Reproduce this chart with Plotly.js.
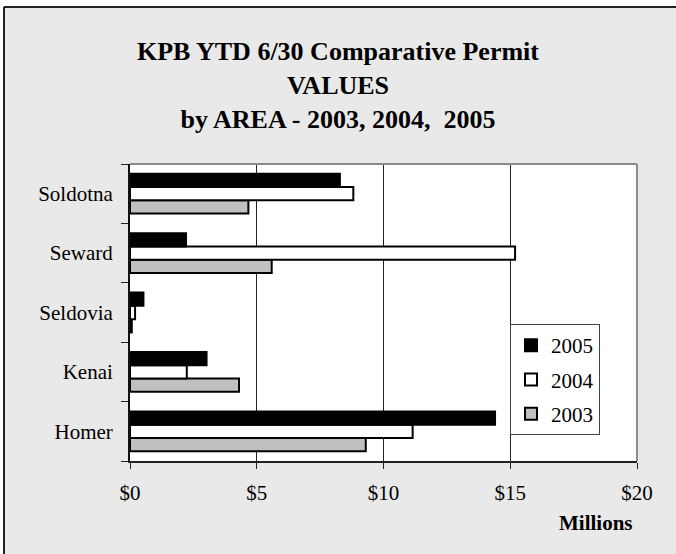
<!DOCTYPE html>
<html>
<head>
<meta charset="utf-8">
<script src="https://cdn.plot.ly/plotly-3.0.1.min.js"></script>
<style>html,body{margin:0;padding:0;background:#fff;}#chart{width:676px;height:554px;}</style>
</head>
<body>
<div id="chart"></div>
<script>
const categories = ['Homer', 'Kenai', 'Seldovia', 'Seward', 'Soldotna'];
const v2005 = [14.4, 3.02, 0.53, 2.21, 8.28];
const v2004 = [11.15, 2.24, 0.2, 15.19, 8.81];
const v2003 = [9.3, 4.3, 0.07, 5.59, 4.67];
const xTicks = [0, 5, 10, 15, 20];
const xTickLabels = ['$0', '$5', '$10', '$15', '$20'];

const font = '"Liberation Serif", "Times New Roman", serif';
function mk(name, vals, color, grp, rank) {
  return {
    type: 'bar', orientation: 'h', name: name, x: vals, y: categories,
    legendgroup: grp, legendrank: rank,
    marker: {color: color, line: {color: '#000', width: 2}},
    hoverinfo: 'x+y'
  };
}
const data = [
  mk('2003', v2003, '#c0c0c0', 'c', 3),
  mk('2004', v2004, '#ffffff', 'b', 2),
  mk('2005', v2005, '#000000', 'a', 1)
];

const px = p => (p - 130) / 507;
const py = p => (461 - p) / 297;

const layout = {
  width: 676, height: 554,
  margin: {l: 130, r: 39, t: 164, b: 93, pad: 0},
  paper_bgcolor: '#e9e9e9',
  plot_bgcolor: '#ffffff',
  font: {family: font, size: 21, color: '#000'},
  barmode: 'group',
  bargap: 0.33,
  bargroupgap: 0,
  showlegend: true,
  title: {
    text: '<b>KPB YTD 6/30 Comparative Permit<br>VALUES<br>by AREA - 2003, 2004, \u00a02005</b>',
    font: {family: font, size: 26, color: '#000'},
    xref: 'container', x: 0.5, xanchor: 'center',
    yref: 'container', y: 1 - 60 / 554, yanchor: 'middle'
  },
  xaxis: {
    range: [0, 20], tickvals: xTicks, ticktext: xTickLabels,
    showgrid: true, gridcolor: '#222', gridwidth: 1,
    zeroline: false, showline: true, linecolor: '#222', linewidth: 2,
    ticks: 'outside', ticklen: 6, tickcolor: '#222', tickwidth: 1,
    ticklabelstandoff: 6,
    tickfont: {family: font, size: 21, color: '#000'},
    fixedrange: true
  },
  yaxis: {
    type: 'category', categoryorder: 'array', categoryarray: categories,
    tickson: 'boundaries',
    showgrid: false, zeroline: false, showline: true, linecolor: '#111', linewidth: 2,
    ticks: 'outside', ticklen: 7, tickcolor: '#222', tickwidth: 1,
    ticklabelstandoff: 11,
    tickfont: {family: font, size: 21, color: '#000'},
    fixedrange: true
  },
  legend: {
    x: px(510), y: py(324), xanchor: 'left', yanchor: 'top',
    bgcolor: '#ffffff', bordercolor: '#444', borderwidth: 1,
    traceorder: 'grouped', tracegroupgap: 4,
    font: {family: font, size: 21, color: '#000'}
  },
  annotations: [{
    text: '<b>Millions</b>', xref: 'paper', yref: 'paper',
    x: px(596), y: py(523), xanchor: 'center', yanchor: 'middle',
    showarrow: false, font: {family: font, size: 21, color: '#000'}
  }],
  shapes: [
    {type: 'line', xref: 'paper', yref: 'paper', x0: 0, x1: 1, y0: 1, y1: 1, line: {color: '#8c8c8c', width: 2}},
    {type: 'line', xref: 'paper', yref: 'paper', x0: 1, x1: 1, y0: 0, y1: 1, line: {color: '#8c8c8c', width: 2}},
    {type: 'rect', xref: 'paper', yref: 'paper', x0: px(-20), x1: px(700), y0: py(6), y1: py(-20), fillcolor: '#ffffff', line: {width: 0}},
    {type: 'rect', xref: 'paper', yref: 'paper', x0: px(-20), x1: px(3), y0: py(600), y1: py(-20), fillcolor: '#ffffff', line: {width: 0}},
    {type: 'line', xref: 'paper', yref: 'paper', x0: px(4), x1: px(700), y0: py(7), y1: py(7), line: {color: '#222', width: 2}},
    {type: 'line', xref: 'paper', yref: 'paper', x0: px(4), x1: px(4), y0: py(7), y1: py(600), line: {color: '#222', width: 2}}
  ]
};

Plotly.newPlot('chart', data, layout, {displayModeBar: false, staticPlot: true});
</script>
</body>
</html>
